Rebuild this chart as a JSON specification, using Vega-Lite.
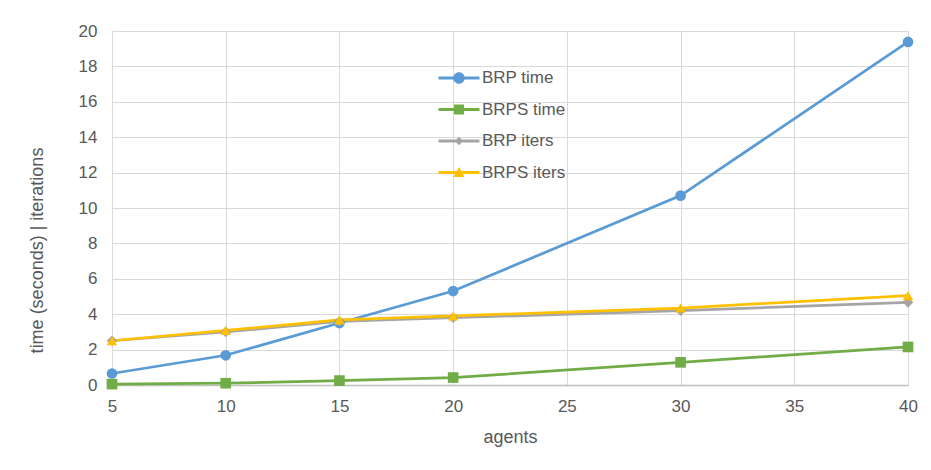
{
  "$schema": "https://vega.github.io/schema/vega-lite/v6.json",
  "width": 796,
  "height": 354,
  "autosize": {"type": "none"},
  "padding": {"left": 112, "top": 31, "right": 23, "bottom": 85},
  "background": "white",
  "config": {
    "view": {"stroke": null},
    "font": "Liberation Sans",
    "axis": {
      "labelFont": "Liberation Sans",
      "titleFont": "Liberation Sans",
      "labelColor": "#595959",
      "titleColor": "#595959",
      "labelFontSize": 17,
      "titleFontSize": 18,
      "titleFontWeight": "normal",
      "gridColor": "#d9d9d9",
      "gridWidth": 1,
      "ticks": false,
      "labelFlush": false
    },
    "legend": {
      "labelFont": "Liberation Sans",
      "labelColor": "#595959",
      "labelFontSize": 17
    }
  },
  "data": {
    "values": [
      {"agents": 5, "series": "BRP time", "value": 0.65},
      {"agents": 10, "series": "BRP time", "value": 1.68},
      {"agents": 15, "series": "BRP time", "value": 3.5},
      {"agents": 20, "series": "BRP time", "value": 5.31},
      {"agents": 30, "series": "BRP time", "value": 10.7},
      {"agents": 40, "series": "BRP time", "value": 19.38},
      {"agents": 5, "series": "BRPS time", "value": 0.05},
      {"agents": 10, "series": "BRPS time", "value": 0.1},
      {"agents": 15, "series": "BRPS time", "value": 0.25},
      {"agents": 20, "series": "BRPS time", "value": 0.42},
      {"agents": 30, "series": "BRPS time", "value": 1.28},
      {"agents": 40, "series": "BRPS time", "value": 2.15},
      {"agents": 5, "series": "BRP iters", "value": 2.5},
      {"agents": 10, "series": "BRP iters", "value": 3.0},
      {"agents": 15, "series": "BRP iters", "value": 3.6},
      {"agents": 20, "series": "BRP iters", "value": 3.8},
      {"agents": 30, "series": "BRP iters", "value": 4.2},
      {"agents": 40, "series": "BRP iters", "value": 4.67},
      {"agents": 5, "series": "BRPS iters", "value": 2.5},
      {"agents": 10, "series": "BRPS iters", "value": 3.08},
      {"agents": 15, "series": "BRPS iters", "value": 3.68},
      {"agents": 20, "series": "BRPS iters", "value": 3.9},
      {"agents": 30, "series": "BRPS iters", "value": 4.35},
      {"agents": 40, "series": "BRPS iters", "value": 5.05}
    ]
  },
  "encoding": {
    "x": {
      "field": "agents",
      "type": "quantitative",
      "scale": {"domain": [5, 40], "nice": false, "zero": false},
      "axis": {
        "title": "agents",
        "values": [5, 10, 15, 20, 25, 30, 35, 40],
        "labelPadding": 13,
        "titleY": 52,
        "titleBaseline": "middle",
        "domainColor": "#bfbfbf",
        "domainWidth": 1.5
      }
    },
    "y": {
      "field": "value",
      "type": "quantitative",
      "scale": {"domain": [0, 20], "nice": false},
      "axis": {
        "title": "time (seconds) | iterations",
        "values": [0, 2, 4, 6, 8, 10, 12, 14, 16, 18, 20],
        "labelPadding": 15,
        "titleX": -75,
        "titleY": 219,
        "titleAngle": -90,
        "titleAlign": "center",
        "titleBaseline": "middle",
        "domain": false
      }
    },
    "color": {
      "field": "series",
      "type": "nominal",
      "scale": {
        "domain": ["BRP time", "BRPS time", "BRP iters", "BRPS iters"],
        "range": ["#5B9BD5", "#70AD47", "#A5A5A5", "#FFC000"]
      }
    }
  },
  "layer": [
    {
      "mark": {"type": "line", "strokeWidth": 2.75},
      "encoding": {
        "color": {
          "field": "series",
          "type": "nominal",
          "legend": null
        }
      }
    },
    {
      "mark": {"type": "point", "filled": true, "opacity": 1, "size": 100},
      "encoding": {
        "color": {
          "field": "series",
          "type": "nominal",
          "legend": null
        },
        "shape": {
          "field": "series",
          "type": "nominal",
          "legend": null,
          "scale": {
            "domain": ["BRP time", "BRPS time", "BRP iters", "BRPS iters"],
            "range": ["circle", "square", "diamond", "triangle-up"]
          }
        },
        "size": {
          "field": "series",
          "type": "nominal",
          "legend": null,
          "scale": {
            "domain": ["BRP time", "BRPS time", "BRP iters", "BRPS iters"],
            "range": [115, 110, 60, 100]
          }
        }
      }
    },
    {
      "mark": {"type": "point", "filled": true, "opacity": 0, "size": 400},
      "encoding": {
        "color": {
          "field": "series",
          "type": "nominal",
          "legend": {
            "title": null,
            "orient": "none",
            "legendX": 337,
            "legendY": 37,
            "padding": 0,
            "symbolSize": 400,
            "symbolOpacity": 1,
            "symbolStrokeWidth": 0,
            "labelOffset": 13,
            "rowPadding": 13.5,
            "encode": {"symbols": {"update": {"opacity": {"value": 1}}}}
          }
        },
        "shape": {
          "field": "series",
          "type": "nominal",
          "scale": {
            "domain": ["BRP time", "BRPS time", "BRP iters", "BRPS iters"],
            "range": [
              "M-2.05,-0.14H2.05V0.14H-2.05Z M-0.58,0A0.58,0.58 0 1,1 0.58,0A0.58,0.58 0 1,1 -0.58,0Z",
              "M-2.05,-0.14H2.05V0.14H-2.05Z M-0.5,-0.5H0.5V0.5H-0.5Z",
              "M-2.05,-0.14H2.05V0.14H-2.05Z M0,-0.42L0.42,0L0,0.42L-0.42,0Z",
              "M-2.05,-0.14H2.05V0.14H-2.05Z M0,-0.55L0.55,0.45H-0.55Z"
            ]
          },
          "legend": {
            "title": null,
            "orient": "none",
            "legendX": 337,
            "legendY": 37,
            "padding": 0,
            "symbolSize": 400,
            "symbolOpacity": 1,
            "symbolStrokeWidth": 0,
            "labelOffset": 13,
            "rowPadding": 13.5,
            "encode": {"symbols": {"update": {"opacity": {"value": 1}}}}
          }
        }
      }
    }
  ],
  "resolve": {
    "scale": {"shape": "independent"},
    "legend": {"color": "independent", "shape": "independent"}
  }
}
